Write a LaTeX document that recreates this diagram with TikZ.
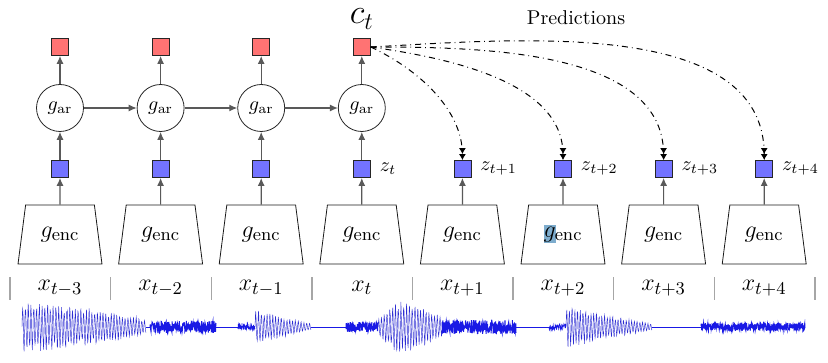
\documentclass[tikz,border=0pt]{standalone}
\usetikzlibrary{shapes.geometric,arrows.meta,positioning}

\definecolor{ctxred}{RGB}{255,115,115}
\definecolor{latblue}{RGB}{115,115,255}
\definecolor{selblue}{RGB}{125,172,205}

\tikzset{
  ctxbox/.style={draw=black!85,fill=ctxred,minimum size=8.5pt,inner sep=0pt},
  latbox/.style={draw=black!85,fill=latblue,minimum size=8.5pt,inner sep=0pt},
  arnode/.style={circle,draw=black!85,minimum size=23.5pt,inner sep=0pt},
  encnode/.style={trapezium,draw=black!90,trapezium stretches=true,
    trapezium left angle=74,trapezium right angle=74,
    minimum width=42pt,minimum height=29.5pt,inner sep=0pt,
    font=\fontsize{13}{15}\selectfont},
  flow/.style={-{Latex[length=4pt,width=3.5pt]},draw=black!65,line width=0.6pt},
  predarrow/.style={-{Latex[length=3pt,width=3.5pt]Latex[length=3pt,width=3.5pt]},
    dash dot,line width=0.5pt},
  sep/.style={draw=black!35,line width=0.7pt},
  wave/.style={draw=blue!80!gray,line width=0.3pt},
  osc/.style={draw=blue!65!gray,line width=0.22pt},
}

\begin{document}
\begin{tikzpicture}[x=0.5pt,y=0.5pt]
  \useasboundingbox (0,0) rectangle (828,363);
  \pgfmathsetseed{11}

  % Encoders and latent vectors
  \foreach \i/\lab in {0/t-3,1/t-2,2/t-1,3/t,4/t+1,5/t+2,6/t+3,7/t+4} {
    \pgfmathsetmacro{\xx}{60+100.6*\i}
    \node[encnode] (enc\i) at (\xx,128.5) {\phantom{$g_{\mathrm{enc}}$}};
    \node[latbox] (z\i) at (\xx,194) {};
    \node[font=\fontsize{13}{15}\selectfont] (x\i) at (\xx,75) {$x_{\lab}$};
    \draw[flow] (enc\i) -- (z\i);
  }
  % selection mark behind one label
  \fill[selblue] (543.5,120) rectangle (555.5,137.5);
  \foreach \i in {0,...,7}
    \node[font=\fontsize{13}{15}\selectfont] at (enc\i) {$g_{\mathrm{enc}}$};

  % Latent labels
  \node[right=1pt of z3] {$z_t$};
  \node[right=1pt of z4] {$z_{t+1}$};
  \node[right=1pt of z5] {$z_{t+2}$};
  \node[right=1pt of z6] {$z_{t+3}$};
  \node[right=1pt of z7] {$z_{t+4}$};

  % Autoregressive part
  \foreach \i in {0,...,3} {
    \pgfmathsetmacro{\xx}{60+100.6*\i}
    \node[arnode] (ar\i) at (\xx,255) {$g_{\mathrm{ar}}$};
    \node[ctxbox] (c\i) at (\xx,316) {};
    \draw[flow] (z\i) -- (ar\i);
    \draw[flow] (ar\i) -- (c\i);
  }
  \draw[flow] (ar0) -- (ar1);
  \draw[flow] (ar1) -- (ar2);
  \draw[flow] (ar2) -- (ar3);

  \node[font=\fontsize{18}{21}\selectfont,anchor=base,inner sep=0pt] (ct) at (361.8,339) {$c_t$};
  \node (predlabel) at (576,345) {Predictions};

  % Predictions
  \draw[predarrow] (c3.east) to[out=-25,in=90,looseness=0.9] (z4.north);
  \draw[predarrow] (c3.east) to[out=-8,in=90,looseness=0.9] (z5.north);
  \draw[predarrow] (c3.east) to[out=0,in=90,looseness=0.9] (z6.north);
  \draw[predarrow] (c3.east) to[out=3,in=90,looseness=0.9] (z7.north);

  % Segment separators
  \foreach \k in {0,...,8}
    \draw[sep] ({10+100.6*\k},63) -- ({10+100.6*\k},86);

  % Waveform
  \draw[osc] plot[domain=22:146,samples=420]
    (\x,{36+26*(1-0.7*((\x-22)/124)^1.5)*sin(130*(\x-22))*(0.8+0.2*rand)});
  \draw[wave] (146,36) -- (150,36);
  \draw[wave,line width=0.5pt] plot[domain=150:216,samples=260] (\x,{36+6*rand});
  \draw[wave] (216,36) -- (238,36);
  \draw[wave] plot[domain=238:255,samples=70] (\x,{36+3*rand});
  \draw[osc] plot[domain=255:311,samples=200]
    (\x,{36+17*(1-0.8*(\x-255)/56)*sin(127*(\x-255))*(0.8+0.2*rand)});
  \draw[wave] (311,36) -- (346,36);
  \draw[wave,line width=0.5pt] plot[domain=346:378,samples=130] (\x,{36+5*rand});
  \draw[osc] plot[domain=378:442,samples=230]
    (\x,{36+26*min(1,(\x-370)/25)*(1-0.6*max(0,(\x-412)/30))*sin(129*(\x-378))*(0.8+0.2*rand)});
  \draw[wave,line width=0.5pt] plot[domain=442:516,samples=290] (\x,{36+7*rand});
  \draw[wave] (516,36) -- (549,36);
  \draw[wave] plot[domain=549:566,samples=70] (\x,{36+3*rand});
  \draw[osc] plot[domain=566:652,samples=300]
    (\x,{36+22*(1-0.85*(\x-566)/86)*sin(133*(\x-566))*(0.8+0.2*rand)});
  \draw[wave] (652,36) -- (701,36);
  \draw[wave,line width=0.5pt] plot[domain=701:805,samples=400] (\x,{36+4*rand});
\end{tikzpicture}
\end{document}
